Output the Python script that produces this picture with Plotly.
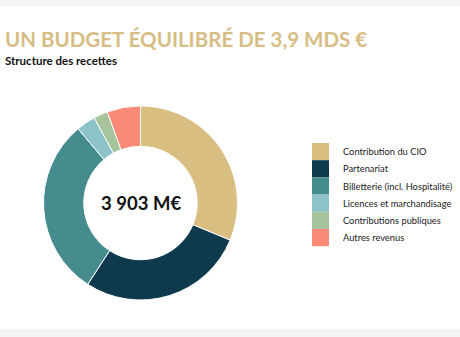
import plotly.graph_objects as go

labels = ["Contribution du CIO", "Partenariat", "Billetterie (incl. Hospitalité)",
          "Licences et marchandisage", "Contributions publiques", "Autres revenus"]
values = [1220, 1089, 1160, 125, 92, 217]
colors = ["#D9BE82", "#0F3A4E", "#468C8F", "#8CC3C9", "#A8C49C", "#FA8A76"]
total_label = "3 903 M€"
title = "UN BUDGET ÉQUILIBRÉ DE 3,9 MDS €"
subtitle = "Structure des recettes"

W, H = 460, 337
cx, cy, r = 140.5, 203, 97

fig = go.Figure(go.Pie(
    labels=labels, values=values, sort=False, direction="clockwise", rotation=0,
    hole=0.585, marker=dict(colors=colors, line=dict(color="white", width=1)),
    textinfo="none", hoverinfo="label+value", showlegend=False,
    domain=dict(x=[(cx - r) / W, (cx + r) / W], y=[(H - cy - r) / H, (H - cy + r) / H]),
))

shapes = [
    dict(type="rect", xref="paper", yref="paper", x0=0, x1=1, y0=1 - 6 / H, y1=1,
         fillcolor="#F4F4F4", line_width=0, layer="below"),
    dict(type="rect", xref="paper", yref="paper", x0=0, x1=1, y0=0, y1=8 / H,
         fillcolor="#F4F4F4", line_width=0, layer="below"),
]
annotations = [
    dict(text=f"<b>{title}</b>", x=4 / W, y=1 - 52.5 / H, xref="paper", yref="paper",
         xanchor="left", yanchor="bottom", showarrow=False, borderpad=0,
         font=dict(family="Lato", size=20.5, color="#D6BD84", weight=900)),
    dict(text=f"<b>{subtitle}</b>", x=4 / W, y=1 - 52.7 / H, xref="paper", yref="paper",
         xanchor="left", yanchor="top", showarrow=False, borderpad=0,
         font=dict(family="Lato", size=11.5, color="#111111")),
    dict(text=f"<b>{total_label}</b>", x=cx / W, y=1 - cy / H, xref="paper", yref="paper",
         xanchor="center", yanchor="middle", showarrow=False,
         font=dict(family="Lato", size=18.5, color="#111111", weight=900)),
]
sw_x0, sw_x1, sw_y0, sw_h = 312, 329, 143, 17.2
for i, (lab, col) in enumerate(zip(labels, colors)):
    y0 = sw_y0 + i * sw_h
    shapes.append(dict(type="rect", xref="paper", yref="paper",
                       x0=sw_x0 / W, x1=sw_x1 / W, y0=1 - (y0 + sw_h) / H, y1=1 - y0 / H,
                       fillcolor=col, line_width=0))
    annotations.append(dict(text=lab, x=341 / W, y=1 - (y0 + sw_h / 2) / H,
                            xref="paper", yref="paper", xanchor="left", yanchor="middle",
                            showarrow=False,
                            font=dict(family="Lato", size=9.3, color="#222222")))

fig.update_layout(width=W, height=H, margin=dict(l=0, r=0, t=0, b=0),
                  paper_bgcolor="white", plot_bgcolor="white",
                  shapes=shapes, annotations=annotations)
fig.write_html("out.html")
